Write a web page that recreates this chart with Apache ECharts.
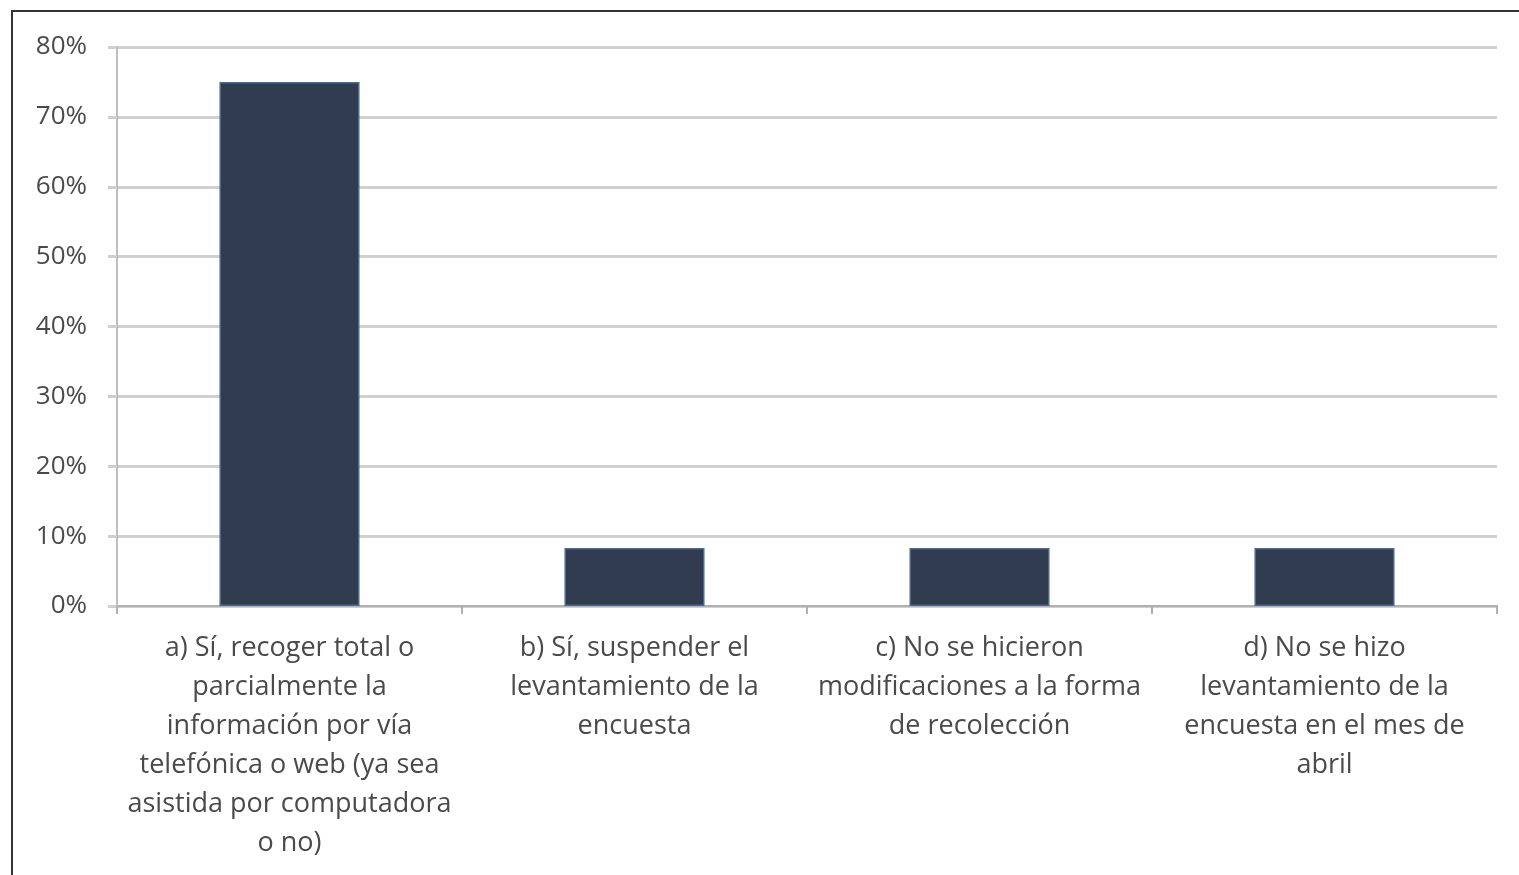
<!DOCTYPE html>
<html><head><meta charset="utf-8">
<script src="https://cdn.jsdelivr.net/npm/echarts@6/dist/echarts.min.js"></script>
<style>
html,body{margin:0;padding:0;background:#fff;overflow:hidden;}
#frame{position:absolute;left:11px;top:10px;width:1540px;height:900px;border:2px solid #333;box-sizing:border-box;}
#chart{position:absolute;left:0;top:0;width:1519px;height:875px;}
</style></head>
<body>
<div id="frame"></div>
<div id="chart"></div>
<script>
const categories = [
  "a) Sí, recoger total o\nparcialmente la\ninformación por vía\ntelefónica o web (ya sea\nasistida por computadora\no no)",
  "b) Sí, suspender el\nlevantamiento de la\nencuesta",
  "c) No se hicieron\nmodificaciones a la forma\nde recolección",
  "d) No se hizo\nlevantamiento de la\nencuesta en el mes de\nabril"
];
const values = [75, 8.3, 8.3, 8.3];
const yTicks = [0, 10, 20, 30, 40, 50, 60, 70, 80];

const chart = echarts.init(document.getElementById('chart'));
chart.setOption({
  animation: false,
  grid: {left: 117, right: 22, top: 47, bottom: 269},
  xAxis: {
    type: 'category',
    data: categories,
    axisLine: {lineStyle: {color: '#b0b0b0', width: 2}},
    axisTick: {show: true, alignWithLabel: false, length: 8, lineStyle: {color: '#b0b0b0', width: 2}},
    axisLabel: {
      interval: 0, color: '#4a4a4a', fontFamily: 'Open Sans', fontSize: 27, fontWeight: 500,
      lineHeight: 39, margin: 23, align: 'center'
    }
  },
  yAxis: {
    type: 'value', min: yTicks[0], max: yTicks[yTicks.length - 1], interval: 10,
    axisLine: {show: true, lineStyle: {color: '#a8a8a8', width: 1.5}},
    axisTick: {show: true, length: 9, lineStyle: {color: '#cfcfcf', width: 3}},
    splitLine: {lineStyle: {color: '#d0d0d0', width: 3}},
    axisLabel: {
      color: '#4a4a4a', fontFamily: 'Open Sans', fontSize: 26, fontWeight: 500, margin: 30,
      formatter: v => v + '%'
    }
  },
  series: [{
    type: 'bar',
    data: values,
    barWidth: '40.6%',
    itemStyle: {color: '#313c50', borderColor: '#4d6a8e', borderWidth: 1.5}
  }]
});
</script>
</body></html>
